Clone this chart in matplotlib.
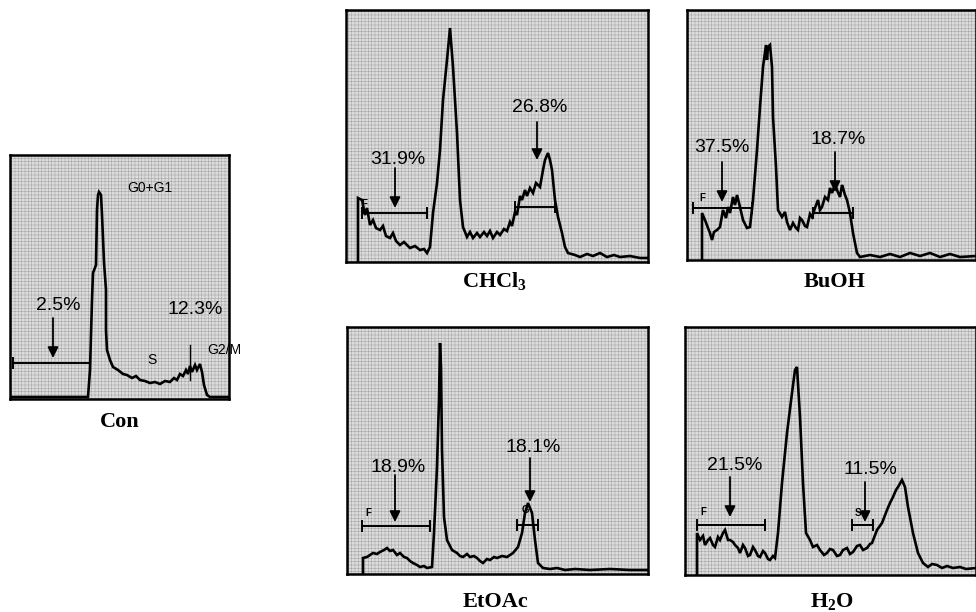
import matplotlib
matplotlib.use("Agg")
import matplotlib.pyplot as plt
from matplotlib.patches import Rectangle

plt.rcParams["mathtext.fontset"] = "custom"
plt.rcParams["mathtext.rm"] = "Liberation Serif:bold"
plt.rcParams["mathtext.bf"] = "Liberation Serif:bold"
plt.rcParams["hatch.linewidth"] = 0.35

# ---------------------------------------------------------------------------
# Data: histogram traces (channel, count in arbitrary units)
# ---------------------------------------------------------------------------

con_x = [0, 78, 80, 82, 83, 86, 87, 88, 89, 91, 92, 94, 96, 96, 97, 100, 103, 108,
         113, 117, 122, 126, 130, 135, 140, 145, 150, 155, 160, 164, 167, 170, 173,
         176, 178, 180, 182, 185, 187, 190, 192, 194, 197, 200, 219]
con_y = [2, 2, 29, 99, 126, 134, 189, 204, 207, 204, 184, 137, 109, 69, 49, 39, 32, 29,
         25, 24, 21, 23, 19, 18, 16, 17, 15, 18, 17, 21, 19, 25, 23,
         29, 25, 33, 27, 34, 29, 35, 27, 14, 4, 2, 2]

chcl3_x = [12, 12, 16, 19, 21, 24, 27, 30, 34, 37, 40, 44, 47, 50, 54, 58, 64, 69, 74,
           78, 81, 84, 87, 91, 94, 97, 101, 104, 107, 111, 114, 117, 121, 124, 127,
           131, 134, 138, 141, 144, 147, 151, 154, 158, 161, 164, 166, 169, 171, 174,
           176, 179, 181, 184, 187, 190, 194, 197, 199, 202, 204, 206, 209, 212, 216,
           219, 222, 229, 234, 241, 247, 254, 261, 268, 274, 284, 294, 302]
chcl3_y = [0, 64, 62, 47, 54, 37, 42, 34, 32, 36, 26, 24, 29, 21, 17, 20, 14, 16, 12,
           13, 9, 15, 49, 79, 112, 162, 202, 234, 195, 129, 62, 35, 25, 30, 24,
           29, 25, 30, 26, 31, 24, 30, 27, 33, 31, 40, 36, 50, 47, 66,
           62, 72, 66, 74, 69, 79, 75, 92, 102, 109, 102, 92, 62, 45, 29,
           15, 9, 7, 5, 8, 6, 9, 5, 7, 5, 6, 4, 4]

buoh_x = [15, 15, 18, 21, 23, 25, 27, 30, 33, 36, 39, 41, 43, 46, 48, 50, 53, 56, 60,
          63, 66, 70, 73, 76, 79, 80, 81, 83, 85, 86, 89, 91, 95, 98, 100, 103, 106,
          109, 111, 113, 115, 118, 120, 123, 125, 128, 131, 133, 135, 138, 141, 143,
          145, 148, 150, 153, 155, 156, 158, 160, 163, 166, 170, 173, 183, 193, 203,
          213, 223, 233, 243, 253, 263, 273, 289]
buoh_y = [0, 47, 40, 32, 27, 20, 28, 30, 33, 50, 42, 53, 47, 63, 55, 65, 53, 40, 32,
          33, 60, 110, 153, 193, 215, 200, 213, 215, 193, 143, 93, 50, 43, 48, 38, 30, 37,
          32, 30, 42, 40, 34, 33, 46, 43, 52, 60, 50, 53, 63, 60, 72,
          67, 76, 70, 63, 75, 72, 65, 60, 47, 27, 7, 3, 5, 3, 6,
          3, 7, 4, 7, 3, 6, 3, 4]

etoac_x = [16, 16, 20, 23, 26, 30, 33, 37, 40, 43, 46, 50, 53, 57, 60, 63, 66, 70, 73,
           77, 80, 85, 87, 90, 92, 93, 94, 95, 97, 100, 105, 110, 113, 116, 120, 123,
           127, 130, 133, 136, 140, 143, 147, 150, 155, 160, 163, 166, 171, 175, 178,
           181, 185, 188, 191, 196, 203, 210, 218, 228, 243, 263, 283, 301]
etoac_y = [0, 16, 17, 19, 21, 20, 22, 24, 26, 23, 24, 19, 21, 17, 16, 13, 11, 9, 7,
           8, 6, 7, 41, 107, 174, 231, 207, 124, 57, 34, 24, 21, 18, 17, 20, 17,
           18, 16, 13, 11, 15, 14, 17, 16, 18, 17, 19, 21, 27, 41, 61,
           71, 61, 34, 11, 6, 5, 6, 4, 5, 4, 5, 4, 4]

h2o_x = [12, 12, 15, 18, 20, 23, 25, 28, 30, 33, 35, 38, 40, 43, 45, 48, 50, 53, 55,
         58, 60, 63, 65, 68, 70, 73, 75, 78, 80, 83, 85, 88, 90, 93, 97, 102, 107,
         110, 112, 115, 118, 121, 125, 128, 132, 135, 139, 142, 145, 148, 152, 155,
         158, 162, 165, 168, 172, 175, 178, 182, 185, 187, 192, 197, 202, 205, 208,
         211, 213, 217, 220, 223, 228, 233, 238, 243, 247, 252, 257, 262, 268, 275,
         281, 291]
h2o_y = [0, 42, 35, 39, 30, 35, 37, 30, 28, 38, 35, 42, 45, 35, 35, 33, 30, 27, 22,
         30, 27, 19, 20, 28, 25, 19, 18, 24, 22, 16, 15, 19, 17, 42, 92, 142, 182,
         205, 208, 158, 92, 42, 35, 28, 30, 25, 20, 22, 26, 25, 19, 20,
         25, 27, 21, 23, 29, 30, 25, 27, 31, 32, 45, 52, 65, 72, 78,
         85, 88, 95, 88, 68, 42, 22, 12, 8, 11, 10, 7, 9, 7, 8,
         6, 7]

# percentage annotations: (label, text pos, arrow top, arrow tip, gate span, gate level)
con_marks = [("2.5%", (48, 94), (43, 81), (43, 41), (3, 80), 36),
             ("12.3%", (185, 89), None, None, None, None)]
chcl3_marks = [("31.9%", (52, 103), (49, 94), (49, 54), (16, 81), 49),
               ("26.8%", (194, 154), (191, 140), (191, 102), (169, 209), 55)]
buoh_marks = [("37.5%", (35, 112), (35, 98), (35, 58), (6, 65), 52),
              ("18.7%", (151, 120), (148, 108), (148, 68), (126, 166), 47)]
etoac_marks = [("18.9%", (51, 107), (48, 99), (48, 52), (15, 83), 48),
               ("18.1%", (186, 127), (183, 116), (183, 72), (170, 191), 49)]
h2o_marks = [("21.5%", (50, 110), (45, 98), (45, 58), (12, 80), 50),
             ("11.5%", (185, 105), (180, 93), (180, 53), (167, 188), 50)]

# ---------------------------------------------------------------------------
# Layout: boxes in pixel units of the 976x612 figure (left, top, width, height)
# ---------------------------------------------------------------------------
W, H = 976, 612
panels = [
    ("Con",        (10, 155, 219, 244), con_x, con_y, con_marks, (120, 422)),
    ("CHCl$_3$",   (346, 10, 302, 252), chcl3_x, chcl3_y, chcl3_marks, (495, 282)),
    ("BuOH",       (687, 10, 289, 250), buoh_x, buoh_y, buoh_marks, (835, 282)),
    ("EtOAc",      (347, 327, 301, 247), etoac_x, etoac_y, etoac_marks, (495, 602)),
    ("H$_2$O",     (685, 327, 291, 248), h2o_x, h2o_y, h2o_marks, (832, 602)),
]

fig = plt.figure(figsize=(W / 100, H / 100), dpi=100)
fig.patch.set_facecolor("white")

axes = []
for name, (l, t, w, h), xs, ys, marks, lab in panels:
    ax = fig.add_axes([l / W, (H - t - h) / H, w / W, h / H])
    ax.set_xlim(0, w)
    ax.set_ylim(0, h)
    ax.set_facecolor("#dcdcdc")
    # halftone-like screen of the scanned plot area
    ax.add_patch(Rectangle((0, 0), 1, 1, transform=ax.transAxes, facecolor="#dcdcdc",
                           edgecolor="#a2a2a2", linewidth=0, hatch="+++++", zorder=0))
    for s in ax.spines.values():
        s.set_linewidth(1.8)
        s.set_color("black")
    ax.set_xticks([])
    ax.set_yticks([])

    ax.plot(xs, ys, color="black", linewidth=1.9, solid_joinstyle="miter", zorder=3)

    for txt, tpos, a0, a1, span, lvl in marks:
        ax.text(tpos[0], tpos[1], txt, ha="center", va="center", fontsize=14,
                family="Liberation Sans", color="black", zorder=5)
        if a0 is not None:
            ax.annotate("", xy=a1, xytext=a0, zorder=5,
                        arrowprops=dict(arrowstyle="-|>", color="black", lw=1.3,
                                        mutation_scale=16, shrinkA=0, shrinkB=0))
        if span is not None:
            ax.plot(span, [lvl, lvl], color="black", linewidth=1.4, zorder=4)
            for xe in span:
                ax.plot([xe, xe], [lvl - 5, lvl + 5], color="black", linewidth=1.4, zorder=4)

    fig.text(lab[0] / W, 1 - lab[1] / H, name, ha="center", va="center",
             fontsize=16, family="Liberation Serif", fontweight="bold")
    axes.append(ax)

# extra labels on the control histogram
ax_con = axes[0]
ax_con.text(140, 211, "G0+G1", ha="center", va="center", fontsize=10,
            family="Liberation Sans")
ax_con.text(142, 39, "S", ha="center", va="center", fontsize=10, family="Liberation Sans")
ax_con.text(197, 49, "G2/M", ha="left", va="center", fontsize=10, family="Liberation Sans")
ax_con.plot([180, 180], [19, 54], color="black", linewidth=1.0, zorder=4)

# small gate letters
for ax, pos, letter in [(axes[1], (18, 58), "F"), (axes[2], (15, 62), "F"),
                        (axes[3], (21, 61), "F"), (axes[4], (18, 63), "F"),
                        (axes[4], (173, 62), "S"), (axes[3], (178, 64), "G")]:
    ax.text(pos[0], pos[1], letter, ha="center", va="center", fontsize=7,
            fontweight="bold", family="Liberation Sans", zorder=5)

fig.savefig("out.png", dpi=100, facecolor=fig.get_facecolor())
